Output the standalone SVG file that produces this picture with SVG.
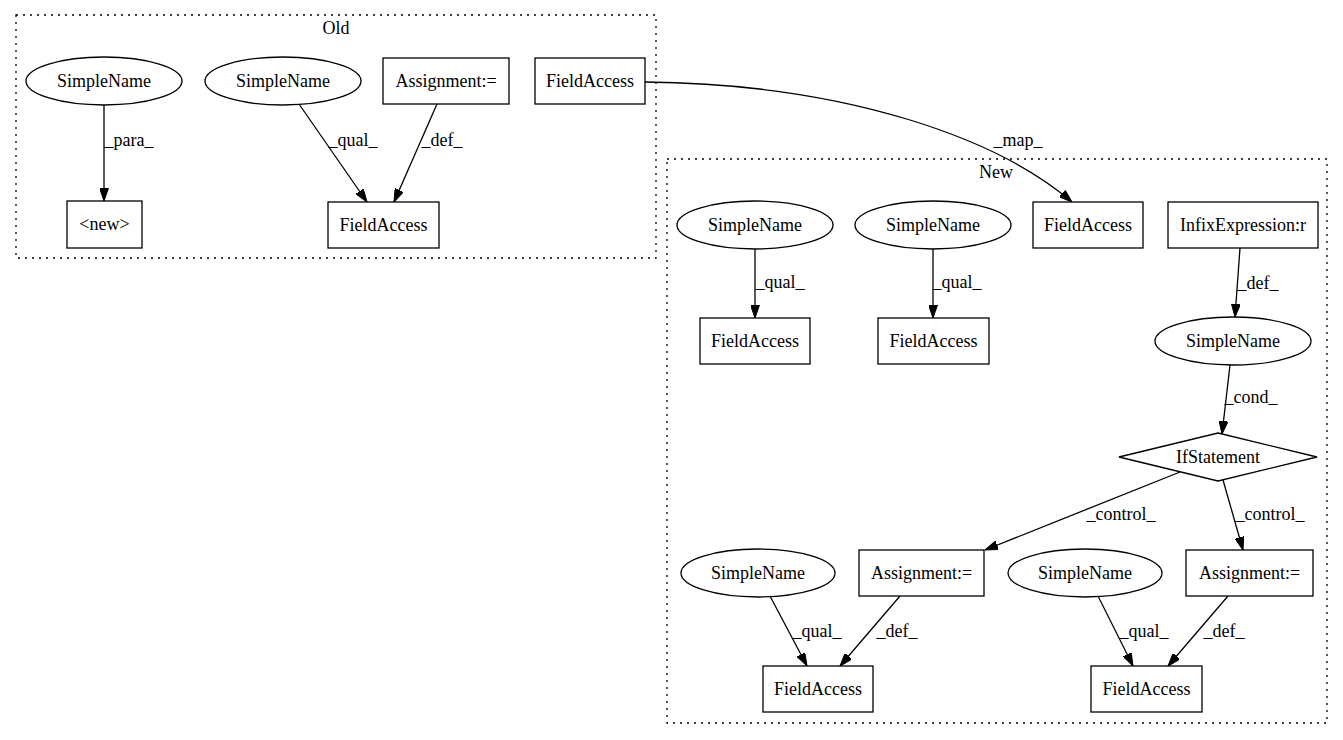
<svg xmlns="http://www.w3.org/2000/svg" width="1343" height="740" viewBox="0 0 1343 740">
<style>
.t{font-family:'Liberation Serif','Times New Roman',serif;font-size:18px;fill:#000;text-anchor:middle}
.n{fill:#fff;stroke:#000;stroke-width:1.3}
.cl{fill:none;stroke:#000;stroke-width:1.3;stroke-dasharray:2,5}
.e{fill:none;stroke:#000;stroke-width:1.3;marker-end:url(#arr)}
</style>
<defs>
<marker id="arr" viewBox="0 0 13 9" refX="13" refY="4.5" markerWidth="13" markerHeight="9" orient="auto" markerUnits="userSpaceOnUse"><path d="M0,0 L13,4.5 L0,9 z" fill="#000" stroke="#000" stroke-width="1"/></marker>
</defs>
<rect width="1343" height="740" fill="#fff"/>
<g class="t">
<g id="cluster_old">
<rect class="cl" x="16" y="15" width="640" height="243"/>
<text x="336" y="34">Old</text>
</g>
<g id="cluster_new">
<rect class="cl" x="667" y="159" width="660" height="564"/>
<text x="996" y="178">New</text>
</g>
<g id="edges">
<path class="e" d="M104,105 L104,201"/>
<text x="129" y="146">_para_</text>
<path class="e" d="M299,104 L367,202"/>
<text x="353" y="146">_qual_</text>
<path class="e" d="M437,104 L394,202"/>
<text x="442" y="146">_def_</text>
<path class="e" d="M645,82 C850,84 1000,140 1072,202"/>
<text x="1018" y="146">_map_</text>
<path class="e" d="M755,249 L755,318"/>
<text x="780" y="288">_qual_</text>
<path class="e" d="M933,249 L933,318"/>
<text x="957" y="288">_qual_</text>
<path class="e" d="M1240,248 L1235,317"/>
<text x="1258" y="289">_def_</text>
<path class="e" d="M1230,365 L1222,434"/>
<text x="1251" y="403">_cond_</text>
<path class="e" d="M1180,472 L985,550"/>
<text x="1121" y="520">_control_</text>
<path class="e" d="M1223,480 L1243,550"/>
<text x="1270" y="520">_control_</text>
<path class="e" d="M770,596 L807,666"/>
<text x="817" y="637">_qual_</text>
<path class="e" d="M900,596 L840,666"/>
<text x="897" y="637">_def_</text>
<path class="e" d="M1098,596 L1133,666"/>
<text x="1144" y="637">_qual_</text>
<path class="e" d="M1228,596 L1168,666"/>
<text x="1224" y="637">_def_</text>
</g>
<g id="o_sn1"><ellipse class="n" cx="104" cy="81" rx="78" ry="24"/><text x="104" y="87">SimpleName</text></g>
<g id="o_sn2"><ellipse class="n" cx="283" cy="81" rx="78" ry="24"/><text x="283" y="87">SimpleName</text></g>
<g id="o_asg"><rect class="n" x="383" y="58" width="126" height="46"/><text x="446" y="87">Assignment:=</text></g>
<g id="o_fa1"><rect class="n" x="535" y="58" width="110" height="46"/><text x="590" y="87">FieldAccess</text></g>
<g id="o_new"><rect class="n" x="67" y="201" width="75" height="47"/><text x="104.5" y="230">&lt;new&gt;</text></g>
<g id="o_fa2"><rect class="n" x="328" y="202" width="111" height="46"/><text x="383.5" y="231">FieldAccess</text></g>
<g id="n_sn1"><ellipse class="n" cx="755" cy="225" rx="78" ry="24"/><text x="755" y="231">SimpleName</text></g>
<g id="n_sn2"><ellipse class="n" cx="933" cy="225" rx="78" ry="24"/><text x="933" y="231">SimpleName</text></g>
<g id="n_fa1"><rect class="n" x="1033" y="202" width="110" height="46"/><text x="1088" y="231">FieldAccess</text></g>
<g id="n_infix"><rect class="n" x="1168" y="202" width="150" height="46"/><text x="1243" y="231">InfixExpression:r</text></g>
<g id="n_fa2"><rect class="n" x="700" y="318" width="110" height="46"/><text x="755" y="347">FieldAccess</text></g>
<g id="n_fa3"><rect class="n" x="878" y="318" width="111" height="46"/><text x="933.5" y="347">FieldAccess</text></g>
<g id="n_sn3"><ellipse class="n" cx="1233" cy="341" rx="78" ry="24"/><text x="1233" y="347">SimpleName</text></g>
<g id="n_if"><polygon class="n" points="1218,433 1317,457 1218,481 1119,457"/><text x="1218" y="463">IfStatement</text></g>
<g id="n_sn4"><ellipse class="n" cx="758" cy="573" rx="77" ry="24"/><text x="758" y="579">SimpleName</text></g>
<g id="n_asg1"><rect class="n" x="859" y="550" width="125" height="46"/><text x="921.5" y="579">Assignment:=</text></g>
<g id="n_sn5"><ellipse class="n" cx="1085" cy="573" rx="77" ry="24"/><text x="1085" y="579">SimpleName</text></g>
<g id="n_asg2"><rect class="n" x="1186" y="550" width="127" height="46"/><text x="1249.5" y="579">Assignment:=</text></g>
<g id="n_fa4"><rect class="n" x="763" y="666" width="110" height="46"/><text x="818" y="695">FieldAccess</text></g>
<g id="n_fa5"><rect class="n" x="1091" y="666" width="111" height="46"/><text x="1146.5" y="695">FieldAccess</text></g>
</g>
</svg>
